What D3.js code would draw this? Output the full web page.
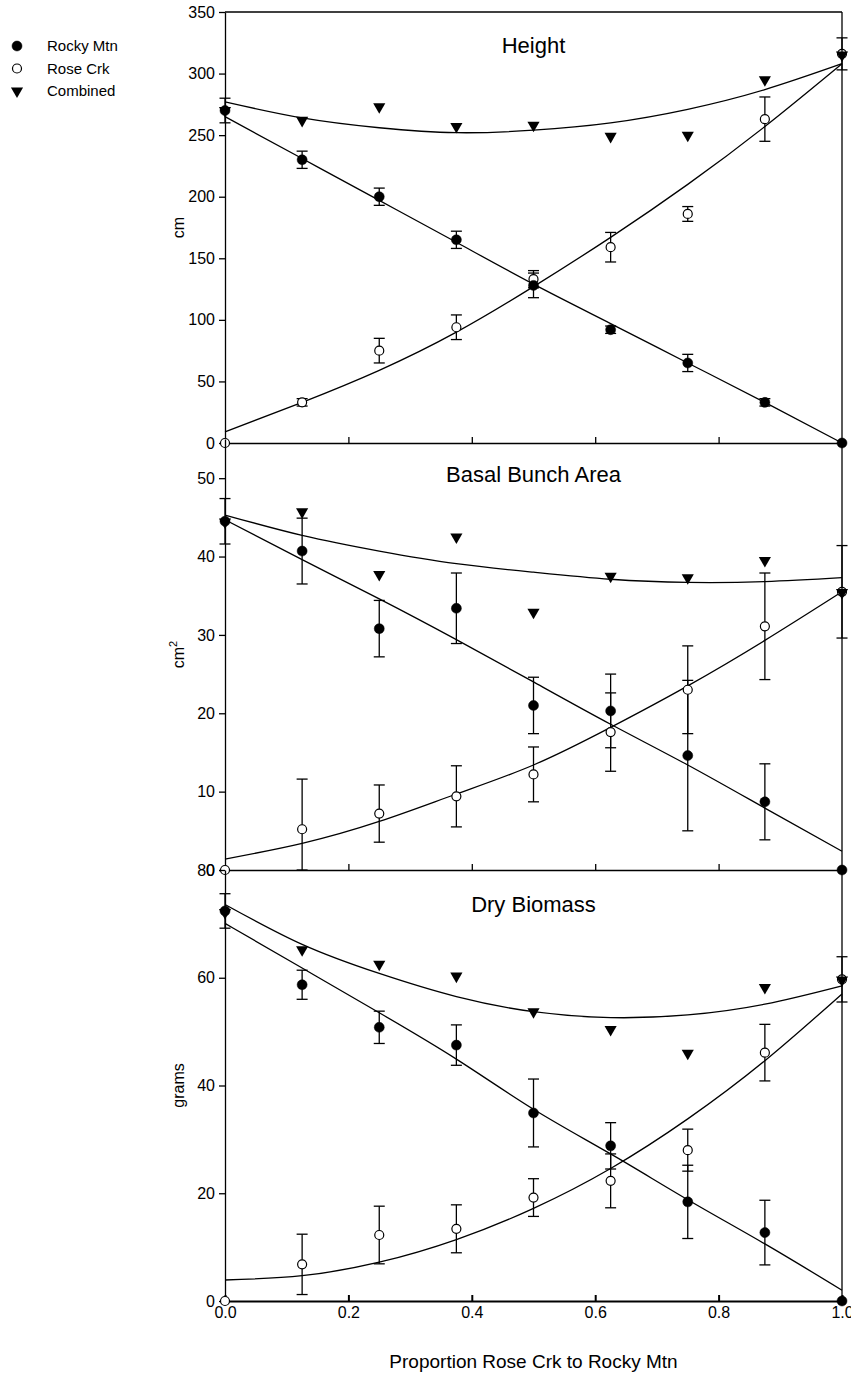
<!DOCTYPE html>
<html>
<head>
<meta charset="utf-8">
<script src="https://cdn.jsdelivr.net/npm/d3@7"></script>
<style>
  body { margin: 0; background: #fff; }
  text { font-family: Arial, "Liberation Sans", sans-serif; fill: #000; }
</style>
</head>
<body>
<div id="chart-container"></div>
<script>
// three stacked panels sharing the x axis
const svgWidth = 851;
const svgHeight = 1375;
const xLeft = 225;
const xRight = 842;

// proportion of Rose Crk in the mix
const props = [0, 0.125, 0.25, 0.375, 0.5, 0.625, 0.75, 0.875, 1];
const xTicks = [0, 0.2, 0.4, 0.6, 0.8, 1];
const xInnerTicks = [0.2, 0.4, 0.6, 0.8];

// Height (cm)
const heightTicks = [0, 50, 100, 150, 200, 250, 300, 350];
const heightRocky = [270, 230, 200, 165, 128, 92, 65, 33, 0];
const heightRockyErr = [10, 7, 7, 7, 10, 3, 7, 3, 0];
const heightRose = [0, 33, 75, 94, 133, 159, 186, 263, 316];
const heightRoseErr = [0, 3, 10, 10, 7, 12, 6, 18, 13];
const heightComb = [270, 262, 273, 257, 258, 249, 250, 295, 315];
const heightRockyFit = [265, 231, 197, 163, 129, 97, 65, 33, 0];
const heightRoseFit = [9, 33, 59, 90, 127, 167, 210, 257, 308];
const heightCombFit = [277, 264, 256, 252, 254, 260, 271, 287, 308];

// Basal bunch area (cm2)
const basalTicks = [0, 10, 20, 30, 40, 50];
const basalRocky = [44.5, 40.7, 30.8, 33.4, 21.0, 20.3, 14.6, 8.7, 0];
const basalRockyErr = [2.9, 4.2, 3.6, 4.5, 3.6, 4.7, 9.6, 4.85, 0];
const basalRose = [0, 5.2, 7.2, 9.4, 12.2, 17.6, 23.0, 31.1, 35.5];
const basalRoseErr = [0, 6.4, 3.65, 3.9, 3.5, 5.0, 5.6, 6.8, 5.9];
const basalComb = [44.4, 45.7, 37.7, 42.5, 32.9, 37.5, 37.3, 39.5, 35.4];
const basalRockyFit = [44.7, 39.6, 34.6, 29.4, 24.0, 18.6, 13.4, 7.9, 2.4];
const basalRoseFit = [1.4, 3.4, 6.2, 9.7, 13.4, 18.2, 23.5, 29.3, 35.5];
const basalCombFit = [45.3, 42.7, 40.7, 39.1, 38.0, 37.1, 36.7, 36.8, 37.3];

// Dry biomass (grams)
const bioTicks = [0, 20, 40, 60, 80];
const bioRocky = [72.4, 58.7, 50.8, 47.5, 34.9, 28.8, 18.4, 12.7, 0];
const bioRockyErr = [3.2, 2.7, 3.0, 3.75, 6.3, 4.3, 6.8, 6.0, 0];
const bioRose = [0, 6.8, 12.25, 13.4, 19.2, 22.3, 28.0, 46.1, 59.7];
const bioRoseErr = [0, 5.6, 5.35, 4.45, 3.5, 5.0, 3.9, 5.25, 4.2];
const bioComb = [72.1, 65.2, 62.5, 60.3, 53.7, 50.4, 46.0, 58.2, 59.6];
const bioRockyFit = [70.1, 61.8, 53.5, 44.9, 35.6, 27.3, 18.8, 10.6, 2.0];
const bioRoseFit = [3.9, 4.7, 7.2, 11.4, 17.2, 24.6, 33.8, 44.6, 57.0];
const bioCombFit = [73.6, 66.2, 60.8, 56.5, 53.7, 52.6, 53.1, 55.1, 58.5];

const legendNames = ["Rocky Mtn", "Rose Crk", "Combined"];

const panels = [
  { title: "Height", label: "cm", ticks: heightTicks, domain: [0, 350], range: [443, 12], titleY: 53,
    rocky: heightRocky, rockyErr: heightRockyErr, rose: heightRose, roseErr: heightRoseErr,
    comb: heightComb, rockyFit: heightRockyFit, roseFit: heightRoseFit, combFit: heightCombFit },
  { title: "Basal Bunch Area", label: "cm", sup: "2", ticks: basalTicks, domain: [0, 55], range: [870, 439], titleY: 482,
    rocky: basalRocky, rockyErr: basalRockyErr, rose: basalRose, roseErr: basalRoseErr,
    comb: basalComb, rockyFit: basalRockyFit, roseFit: basalRoseFit, combFit: basalCombFit },
  { title: "Dry Biomass", label: "grams", ticks: bioTicks, domain: [0, 80], range: [1301, 870], titleY: 912,
    rocky: bioRocky, rockyErr: bioRockyErr, rose: bioRose, roseErr: bioRoseErr,
    comb: bioComb, rockyFit: bioRockyFit, roseFit: bioRoseFit, combFit: bioCombFit, bottom: true }
];

const svg = d3.select("#chart-container")
  .append("svg")
  .attr("width", svgWidth)
  .attr("height", svgHeight);

const x = d3.scaleLinear().domain([0, 1]).range([xLeft, xRight]);

// downward triangle for the combined series
const triPath = d3.symbol().type(d3.symbolTriangle).size(64)();

function drawCircle(g, cx, cy, filled) {
  g.append("circle")
    .attr("cx", cx).attr("cy", cy)
    .attr("r", filled ? 5 : 4.5)
    .attr("fill", filled ? "#000" : "#fff")
    .attr("stroke", "#000")
    .attr("stroke-width", filled ? 0.5 : 1.2);
}
function drawTri(g, cx, cy) {
  g.append("path")
    .attr("d", triPath)
    .attr("transform", `translate(${cx},${cy}) rotate(180)`)
    .attr("fill", "#000");
}

panels.forEach(function(p) {
  const y = d3.scaleLinear().domain(p.domain).range(p.range);
  const g = svg.append("g");
  const yBottom = p.range[0];
  const clampV = v => Math.max(p.domain[0], Math.min(p.domain[1], v));

  // y axis, ticks outward
  const yAxis = g.append("g")
    .attr("transform", `translate(${xLeft},0)`)
    .call(d3.axisLeft(y).tickValues(p.ticks).tickSizeInner(6).tickSizeOuter(0).tickPadding(4).tickFormat(d3.format("d")));
  yAxis.attr("font-size", 16).attr("font-family", "Arial, 'Liberation Sans', sans-serif");
  yAxis.selectAll("line, path").attr("stroke", "#000").attr("stroke-width", 1.3);

  // x axis, ticks pointing inside
  const xAxis = g.append("g")
    .attr("transform", `translate(0,${yBottom})`)
    .call(d3.axisBottom(x)
      .tickValues(p.bottom ? xTicks : xInnerTicks)
      .tickSizeInner(-6).tickSizeOuter(0).tickPadding(6)
      .tickFormat(p.bottom ? d3.format(".1f") : ""));
  xAxis.attr("font-size", 16).attr("font-family", "Arial, 'Liberation Sans', sans-serif");
  xAxis.selectAll("line, path").attr("stroke", "#000").attr("stroke-width", p.bottom ? 2 : 1.3);

  // panel title
  g.append("text")
    .attr("x", (xLeft + xRight) / 2)
    .attr("y", p.titleY)
    .attr("text-anchor", "middle")
    .attr("font-size", 22)
    .text(p.title);

  // y label
  const midY = (p.range[0] + p.range[1]) / 2;
  const lab = g.append("text")
    .attr("transform", `translate(184,${midY}) rotate(-90)`)
    .attr("text-anchor", "middle")
    .attr("font-size", 16)
    .text(p.label);
  if (p.sup) {
    lab.append("tspan").attr("font-size", 11).attr("dy", -7).text(p.sup);
  }

  // fitted curves
  const line = d3.line()
    .x((d, i) => x(props[i]))
    .y(d => y(d))
    .curve(d3.curveNatural);
  [p.rockyFit, p.roseFit, p.combFit].forEach(function(fit) {
    g.append("path")
      .attr("d", line(fit))
      .attr("fill", "none")
      .attr("stroke", "#000")
      .attr("stroke-width", 1.3);
  });

  // error bars
  function errorBars(vals, errs) {
    vals.forEach(function(v, i) {
      if (!errs[i]) return;
      const top = clampV(v + errs[i]);
      const bot = clampV(v - errs[i]);
      const cx = x(props[i]);
      g.append("line")
        .attr("x1", cx).attr("x2", cx)
        .attr("y1", y(top)).attr("y2", y(bot))
        .attr("stroke", "#000").attr("stroke-width", 1.3);
      [top, bot].forEach(function(e) {
        g.append("line")
          .attr("x1", cx - 5.5).attr("x2", cx + 5.5)
          .attr("y1", y(e)).attr("y2", y(e))
          .attr("stroke", "#000").attr("stroke-width", 1.3);
      });
    });
  }
  errorBars(p.rose, p.roseErr);
  errorBars(p.rocky, p.rockyErr);

  // markers
  p.rose.forEach((v, i) => drawCircle(g, x(props[i]), y(v), false));
  p.rocky.forEach((v, i) => drawCircle(g, x(props[i]), y(v), true));
  p.comb.forEach((v, i) => drawTri(g, x(props[i]), y(v)));
});

// frame top and right
svg.append("line")
  .attr("x1", xLeft).attr("x2", xRight).attr("y1", 12).attr("y2", 12)
  .attr("stroke", "#000").attr("stroke-width", 1.3);
svg.append("line")
  .attr("x1", xRight).attr("x2", xRight).attr("y1", 12).attr("y2", 1301)
  .attr("stroke", "#000").attr("stroke-width", 1.3);

// x axis title
svg.append("text")
  .attr("x", (xLeft + xRight) / 2)
  .attr("y", 1368)
  .attr("text-anchor", "middle")
  .attr("font-size", 19)
  .text("Proportion Rose Crk to Rocky Mtn");

// legend
const legend = svg.append("g");
legendNames.forEach(function(name, i) {
  const ly = 46 + i * 22.5;
  if (i === 0) drawCircle(legend, 17, ly, true);
  if (i === 1) drawCircle(legend, 17, ly, false);
  if (i === 2) drawTri(legend, 17, ly);
  legend.append("text")
    .attr("x", 47)
    .attr("y", ly + 5)
    .attr("font-size", 15)
    .text(name);
});
</script>
</body>
</html>
